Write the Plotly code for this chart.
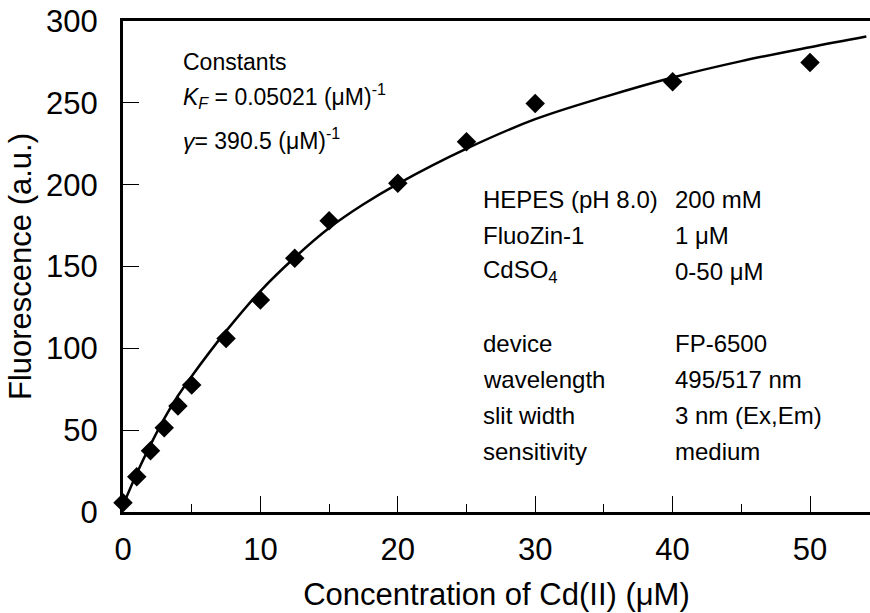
import plotly.graph_objects as go

conc = [0, 1, 2, 3, 4, 5, 7.5, 10, 12.5, 15, 20, 25, 30, 40, 50]
fluor = [5.7, 21.6, 37.5, 51.5, 64.7, 77.6, 106.0, 129.5, 155.0, 178.0, 200.8, 226.2, 249.6, 262.9, 274.7]

# fitted curve
fit_x = [0, 1, 2, 3, 4, 5, 7.5, 10, 12.5, 15, 17.5, 20, 25, 30, 35, 40, 45, 50, 54.1]
fit_y = [4.0, 23.5, 41.0, 57.0, 71.0, 83.0, 110.5, 135.0, 155.5, 173.5, 188.0, 200.5, 222.0, 240.0, 253.5, 265.5, 275.5, 284.0, 290.5]

x_ticks = [0, 10, 20, 30, 40, 50]
y_ticks = [0, 50, 100, 150, 200, 250, 300]

FONT = "Liberation Sans, Arial, sans-serif"

fig = go.Figure()
fig.add_trace(go.Scatter(x=fit_x, y=fit_y, mode="lines", line=dict(color="black", width=2.5, shape="spline"),
                         cliponaxis=False, showlegend=False, hoverinfo="skip"))
fig.add_trace(go.Scatter(x=conc, y=fluor, mode="markers",
                         marker=dict(symbol="diamond", size=15, color="black"),
                         cliponaxis=False, showlegend=False))

W, H = 870, 613
L, T, B = 123, 21, 101

def px_to_paper(px, py):
    return (px - L) / (W - L), (H - B - py) / (H - B - T)

ann = []
def add(text, px, py, size=23):
    x, y = px_to_paper(px, py)
    ann.append(dict(text=text, x=x, y=y, xref="paper", yref="paper", xanchor="left", yanchor="middle",
                    showarrow=False, font=dict(family=FONT, size=size, color="black")))

add("Constants", 181, 62)
add("<i>K</i><sub><i>F</i></sub> = 0.05021 (μM)<sup>-1</sup>", 181, 96)
add("<i>γ</i>= 390.5 (μM)<sup>-1</sup>", 181, 139)

left_col = ["HEPES (pH 8.0)", "FluoZin-1", "CdSO<sub>4</sub>", "device", "wavelength", "slit width", "sensitivity"]
right_col = ["200 mM", "1 μM", "0-50 μM", "FP-6500", "495/517 nm", "3 nm (Ex,Em)", "medium"]
rows_y = [199, 235, 271, 343, 379, 415, 451]
for a, b, yy in zip(left_col, right_col, rows_y):
    add(a, 481, yy, 24)
    add(b, 673, yy, 24)

fig.update_layout(
    width=W, height=H,
    margin=dict(l=L, r=0, t=T, b=B),
    plot_bgcolor="white", paper_bgcolor="white",
    font=dict(family=FONT, color="black"),
    annotations=ann,
    xaxis=dict(range=[0, (W - L) / 13.74], tickvals=x_ticks, ticks="inside", ticklen=16, tickwidth=1,
               tickcolor="black", showline=True, linewidth=3, linecolor="black", mirror=True,
               showgrid=False, zeroline=False, tickfont=dict(size=31, family=FONT),
               ticklabelstandoff=8,
               minor=dict(tickvals=[5, 15, 25, 35, 45], ticks="inside", ticklen=8, tickwidth=1, tickcolor="black"),
               title=dict(text="Concentration of Cd(II) (μM)", font=dict(size=31, family=FONT), standoff=18)),
    yaxis=dict(range=[0, 300], tickvals=y_ticks, ticks="inside", ticklen=16, tickwidth=1,
               tickcolor="black", showline=True, linewidth=3, linecolor="black", mirror=False,
               showgrid=False, zeroline=False, tickfont=dict(size=31, family=FONT),
               ticklabelstandoff=16,
               title=dict(text="Fluorescence (a.u.)", font=dict(size=31, family=FONT), standoff=6)),
)

fig.write_html("out.html")
